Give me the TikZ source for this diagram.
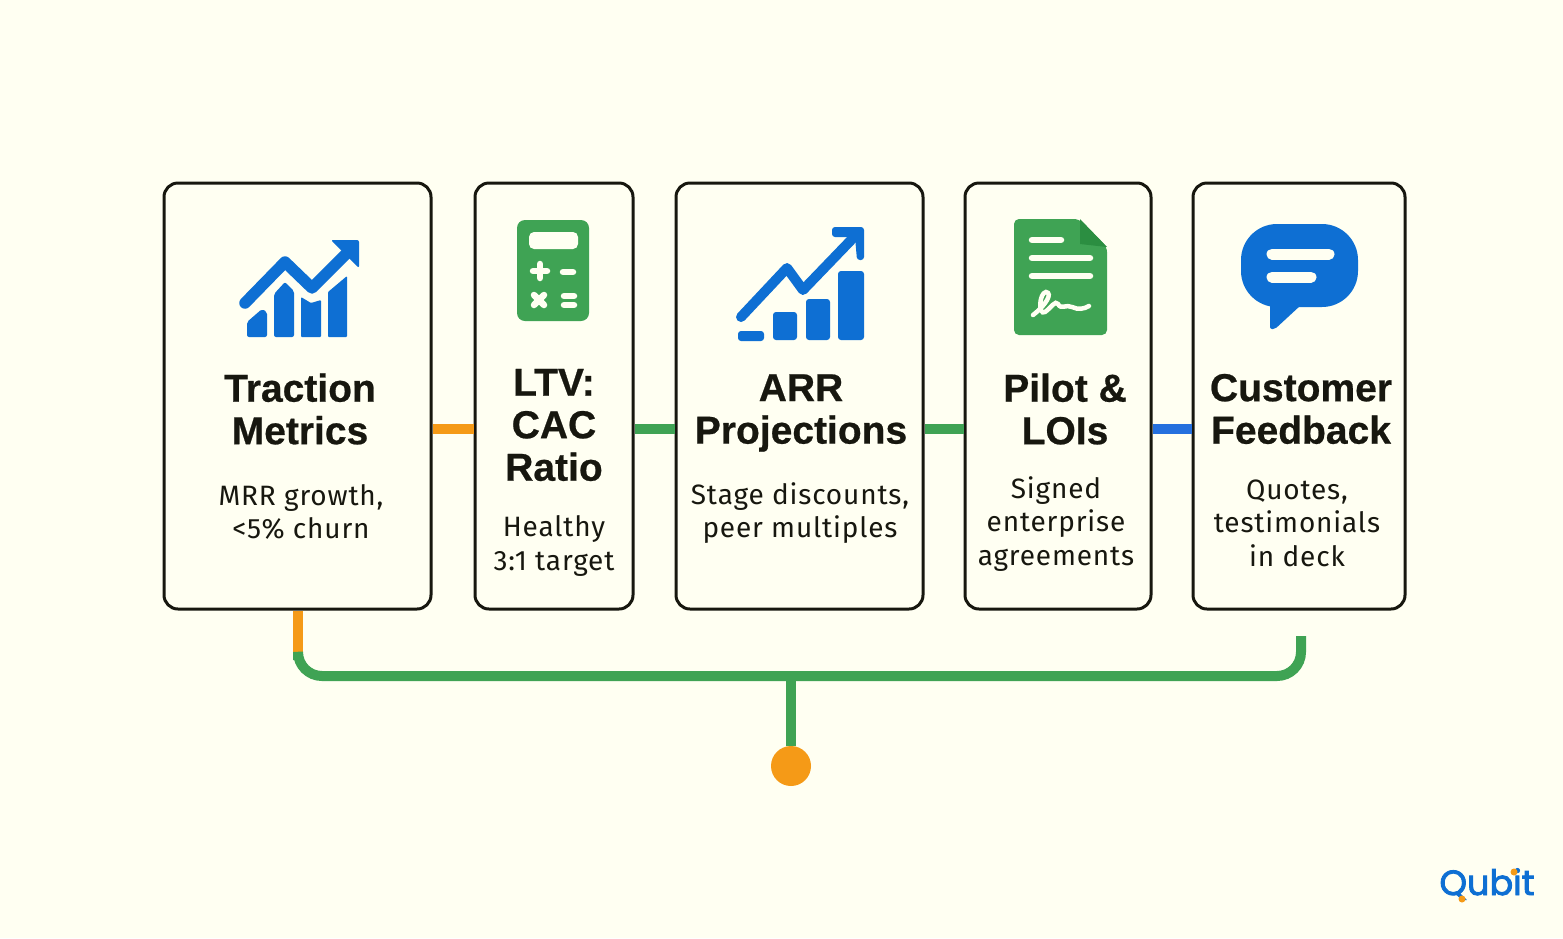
\documentclass[tikz,border=0pt]{standalone}
\usepackage{fontspec}
\setmainfont[BoldFeatures={FakeBold=0.6}]{Liberation Sans}
\newfontfamily\bodyfont[LetterSpace=3]{Fira Sans}
\newfontfamily\logofont[FakeBold=2.5]{Poppins}
\usetikzlibrary{positioning}
\definecolor{paper}{HTML}{FFFFF2}
\definecolor{ink}{HTML}{17170F}
\definecolor{iconblue}{HTML}{0E6FD3}
\definecolor{linkblue}{HTML}{2570DE}
\definecolor{leaf}{HTML}{3FA354}
\definecolor{leafdark}{HTML}{2B8E41}
\definecolor{amber}{HTML}{F59A17}
\tikzset{
  card/.style={
    % The shape:
    rectangle,rounded corners=14pt,
    minimum height=426pt,
    % The border:
    line width=3pt,draw=ink,inner sep=0pt},
  cardtitle/.style={
    align=center,inner sep=0pt,text=ink,
    font=\fontsize{39}{42.5}\selectfont\bfseries},
  cardtext/.style={
    align=center,inner sep=0pt,text=ink,
    font=\fontsize{28}{33.5}\selectfont\bodyfont},
  link/.style={line width=10pt},
  bluefill/.style={fill=iconblue,draw=none},
  greenfill/.style={fill=leaf,draw=none},
  blueline/.style={draw=iconblue,line cap=round,line join=round,line width=11.5pt},
  whiteline/.style={draw=paper,line cap=round,line width=6.5pt}
}
\begin{document}
\begin{tikzpicture}[x=1pt,y=-1pt]
  \useasboundingbox[fill=paper] (0,0) rectangle (1563,938);

  % The cards:
  \node (traction) [card,minimum width=267pt] at (297.5,396) {};
  \node (ltv)      [card,minimum width=158pt] at (554,396)   {};
  \node (arr)      [card,minimum width=247pt] at (799.5,396) {};
  \node (pilot)    [card,minimum width=186pt] at (1058,396)  {};
  \node (feedback) [card,minimum width=212pt] at (1299,396)  {};

  % The titles:
  \node (tractiontitle) [cardtitle] at (300,409)  {Traction\\Metrics};
  \node (ltvtitle)      [cardtitle] at (554,425)  {LTV:\\CAC\\Ratio};
  \node (arrtitle)      [cardtitle] at (801,413)  {ARR\\Projections};
  \node (pilottitle)    [cardtitle] at (1065,409) {Pilot \&\\LOIs};
  \node (feedbacktitle) [cardtitle] at (1301,409) {Customer\\Feedback};

  % The texts:
  \node (tractiontext) [cardtext] at (301,512)  {MRR growth,\\{<}5\% churn};
  \node (ltvtext)      [cardtext] at (554,546)  {Healthy\\3:1 target};
  \node (arrtext)      [cardtext] at (800,513)  {Stage discounts,\\peer multiples};
  \node (pilottext)    [cardtext] at (1056,524) {Signed\\enterprise\\agreements};
  \node (feedbacktext) [cardtext] at (1297,523) {Quotes,\\testimonials\\in deck};

  % The links between the cards:
  \draw[link,amber]     ([yshift=-33pt]traction.east) -- ([yshift=-33pt]ltv.west);
  \draw[link,leaf]      ([yshift=-33pt]ltv.east)      -- ([yshift=-33pt]arr.west);
  \draw[link,leaf]      ([yshift=-33pt]arr.east)      -- ([yshift=-33pt]pilot.west);
  \draw[link,linkblue]  ([yshift=-33pt]pilot.east)    -- ([yshift=-33pt]feedback.west);

  % The bus below the cards:
  \coordinate (busleft)  at (298,676);
  \coordinate (busright) at (1301,676);
  \coordinate (busmid)   at (791,676);
  \coordinate (busstart) at (298,660);
  \coordinate (busend)   at (1301,636);
  \node (hub) [circle,fill=amber,minimum size=40pt,inner sep=0pt] at (791,766) {};
  \draw[link,leaf] (busmid) -- (hub);
  \draw[link,amber] (traction.south -| busstart) -- (busstart);
  \draw[link,leaf,rounded corners=24pt] (busstart) -- (busleft) -- (busright) -- (busend);

  % Chart icon of the first card:
  \draw[blueline] (245,303) -- (285,262) -- (312,288) -- (350,250);
  \fill[bluefill,rounded corners=2pt] (331,240) -- (359,240) -- (359,268) -- cycle;
  \fill[bluefill,rounded corners=2pt] (247,337) -- (247,322) -- (262,309) -- (267,312) -- (267,337) -- cycle;
  \fill[bluefill,rounded corners=2pt] (274,337) -- (274,294) -- (285,282) -- (294,291) -- (294,337) -- cycle;
  \fill[bluefill,rounded corners=1pt] (301,337) -- (301,297) -- (311,303) -- (321,300) -- (321,337) -- cycle;
  \fill[bluefill,rounded corners=1pt] (328,337) -- (328,292) -- (347,276) -- (347,337) -- cycle;

  % Calculator icon:
  \fill[greenfill,rounded corners=8pt] (517,220) rectangle (589,321);
  \fill[paper,rounded corners=5pt] (529,232) rectangle (578,249);
  \draw[whiteline] (533,271) -- (547,271) (540,264) -- (540,278);
  \draw[whiteline] (563,272) -- (573,272);
  \draw[whiteline] (534,295) -- (544,305) (544,295) -- (534,305);
  \draw[whiteline] (564,296) -- (574,296) (564,305) -- (574,305);

  % Chart icon of the third card:
  \draw[blueline,line width=10pt] (741,317) -- (787,268) -- (803,290) -- (855,236);
  \fill[bluefill,rounded corners=3pt] (832,227) -- (864,227) -- (864,260) -- (857,260) -- (855,237) -- (832,237) -- cycle;
  \fill[bluefill,rounded corners=3pt] (738,331) rectangle (764,341);
  \fill[bluefill,rounded corners=3pt] (773,312) rectangle (797,340);
  \fill[bluefill,rounded corners=3pt] (806,299) rectangle (830,340);
  \fill[bluefill,rounded corners=3pt] (838,271) rectangle (864,340);

  % Document icon:
  \fill[greenfill,rounded corners=5pt] (1014,219) -- (1079,219) -- (1107,247) -- (1107,335) -- (1014,335) -- cycle;
  \fill[leafdark] (1080,219) -- (1107,247) -- (1080,244) -- cycle;
  \draw[whiteline] (1032,240) -- (1061,240);
  \draw[whiteline] (1032,258) -- (1090,258);
  \draw[whiteline] (1032,276) -- (1090,276);
  \draw[whiteline,line width=4.5pt] (1033,315) .. controls (1046,305) and (1053,293) .. (1046,292)
    .. controls (1039,293) and (1038,316) .. (1045,312) .. controls (1052,307) and (1055,300) .. (1058,304)
    .. controls (1061,310) and (1066,304) .. (1072,307) .. controls (1078,310) and (1084,309) .. (1089,306);

  % Speech bubble icon:
  \fill[bluefill,rounded corners=36pt] (1241,224) rectangle (1358,307);
  \fill[bluefill,rounded corners=2pt] (1270,295) -- (1270,329) -- (1275,329) -- (1301,305) -- cycle;
  \draw[line width=11pt,draw=paper,line cap=round] (1272,254) -- (1329,254);
  \draw[line width=11pt,draw=paper,line cap=round] (1272,277) -- (1311,277);

  % The logo:
  \node (logo) [inner sep=0pt,text=iconblue,font=\fontsize{35}{35}\selectfont\logofont] at (1487,884) {Qubit};
  \fill[amber] (1462,899) circle (3.5pt);
  \fill[amber] (1514,872) circle (3.5pt);
\end{tikzpicture}
\end{document}
